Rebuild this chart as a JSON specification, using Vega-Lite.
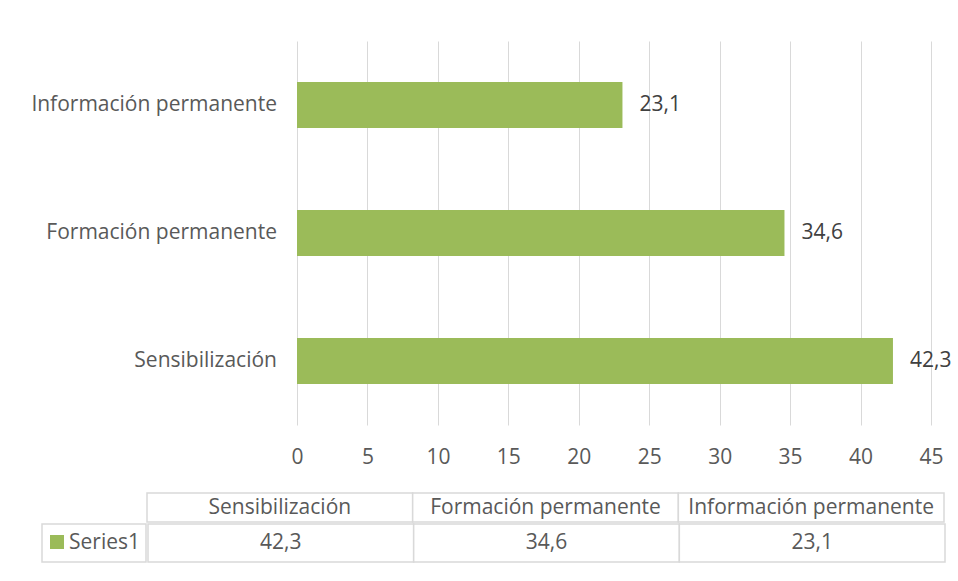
{
  "$schema": "https://vega.github.io/schema/vega-lite/v6.json",
  "padding": {"left": 31, "top": 41, "right": 0, "bottom": 0},
  "background": "white",
  "config": {
    "locale": {"number": {"decimal": ",", "thousands": ".", "grouping": [3], "currency": ["", " €"]}},
    "font": "Open Sans",
    "view": {"stroke": null},
    "axis": {"labelColor": "#595959", "labelFont": "Open Sans", "labelFontSize": 21}
  },
  "datasets": {
    "main": [
      {"cat": "Sensibilización", "value": 42.3},
      {"cat": "Formación permanente", "value": 34.6},
      {"cat": "Información permanente", "value": 23.1}
    ],
    "series": [{"series": "Series1"}]
  },
  "spacing": 25,
  "vconcat": [
    {
      "spacing": 13,
      "hconcat": [
        {
          "width": 246,
          "height": 384,
          "data": {"name": "main"},
          "mark": {"type": "text", "align": "right", "baseline": "middle", "fontSize": 21, "color": "#595959"},
          "encoding": {
            "y": {
              "field": "cat", "type": "nominal",
              "sort": ["Información permanente", "Formación permanente", "Sensibilización"],
              "scale": {"paddingInner": 0.64, "paddingOuter": 0.32},
              "axis": null
            },
            "x": {"value": "width"},
            "text": {"field": "cat"}
          }
        },
        {
          "width": 634,
          "height": 384,
          "data": {"name": "main"},
          "encoding": {
            "y": {
              "field": "cat", "type": "nominal",
              "sort": ["Información permanente", "Formación permanente", "Sensibilización"],
              "scale": {"paddingInner": 0.64, "paddingOuter": 0.32},
              "axis": null
            },
            "x": {
              "field": "value", "type": "quantitative",
              "scale": {"domain": [0, 45], "nice": false},
              "axis": {"title": null, "values": [0,5,10,15,20,25,30,35,40,45], "domain": false, "ticks": false, "labelFlush": false,
                       "gridColor": "#d9d9d9", "gridWidth": 1, "labelPadding": 21, "minExtent": 42, "maxExtent": 42}
            }
          },
          "layer": [
            {"mark": {"type": "bar", "color": "#9BBB59"}},
            {"mark": {"type": "text", "align": "left", "baseline": "middle", "dx": 17, "fontSize": 21, "color": "#404040"},
             "encoding": {"text": {"field": "value", "type": "quantitative", "format": ".1f"}}}
          ]
        }
      ]
    },
    {
      "spacing": 0,
      "vconcat": [
        {
          "spacing": 0,
          "hconcat": [
            {
              "width": 115,
              "height": 29,
              "data": {"name": "series"},
              "mark": {"type": "text", "opacity": 0},
              "encoding": {"text": {"value": ""}}
            },
            {
              "width": 797,
              "height": 29,
              "data": {"name": "main"},
              "encoding": {
                "x": {"field": "cat", "type": "nominal", "sort": ["Sensibilización", "Formación permanente", "Información permanente"],
                      "scale": {"paddingInner": 0, "paddingOuter": 0}, "axis": null}
              },
              "layer": [
                {"mark": {"type": "rect", "fill": "white", "stroke": "#d9d9d9", "strokeWidth": 1.5}},
                {"mark": {"type": "text", "baseline": "middle", "fontSize": 21, "color": "#595959"},
                 "encoding": {"text": {"field": "cat"}}}
              ]
            }
          ]
        },
        {
          "spacing": 0,
          "hconcat": [
            {
              "width": 115,
              "height": 38,
              "data": {"name": "series"},
              "layer": [
                {"mark": {"type": "rect", "fill": "white", "stroke": "#d9d9d9", "strokeWidth": 1.5},
                 "encoding": {"x": {"field": "series", "type": "nominal", "scale": {"range": [11, 115], "paddingInner": 0, "paddingOuter": 0}, "axis": null}}},
                {"mark": {"type": "square", "color": "#9BBB59", "size": 196, "opacity": 1},
                 "encoding": {"x": {"field": "series", "type": "nominal", "bandPosition": 0}, "xOffset": {"value": 15}, "y": {"value": 18}}},
                {"mark": {"type": "text", "align": "left", "baseline": "middle", "fontSize": 21, "color": "#595959", "dx": 27},
                 "encoding": {"x": {"field": "series", "type": "nominal", "bandPosition": 0}, "y": {"value": 19}, "text": {"field": "series"}}}
              ]
            },
            {
              "width": 797,
              "height": 38,
              "data": {"name": "main"},
              "encoding": {
                "x": {"field": "cat", "type": "nominal", "sort": ["Sensibilización", "Formación permanente", "Información permanente"],
                      "scale": {"paddingInner": 0, "paddingOuter": 0}, "axis": null}
              },
              "layer": [
                {"mark": {"type": "rect", "fill": "white", "stroke": "#d9d9d9", "strokeWidth": 1.5}},
                {"mark": {"type": "text", "baseline": "middle", "fontSize": 21, "color": "#595959"},
                 "encoding": {"text": {"field": "value", "type": "quantitative", "format": ".1f"}}}
              ]
            }
          ]
        }
      ]
    }
  ]
}
